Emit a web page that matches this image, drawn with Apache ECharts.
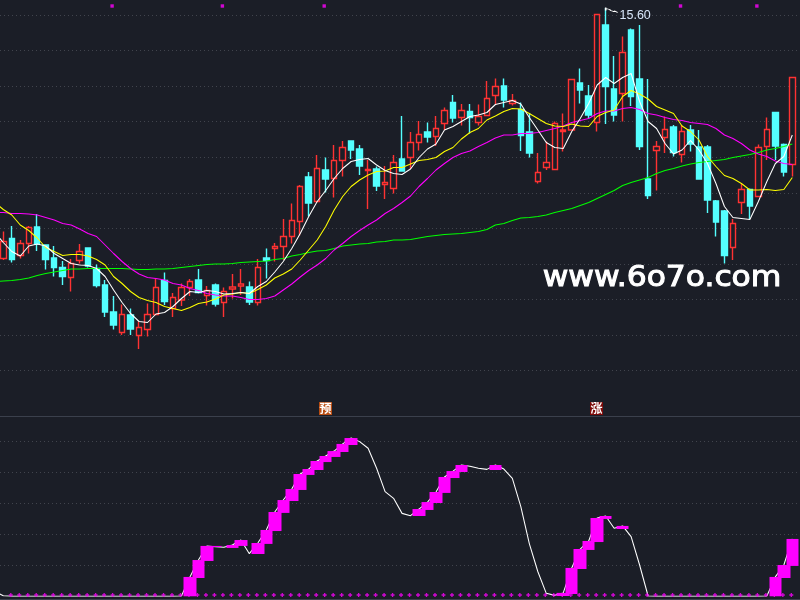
<!DOCTYPE html>
<html><head><meta charset="utf-8">
<script src="https://cdn.jsdelivr.net/npm/echarts@6/dist/echarts.min.js"></script>
<style>html,body{margin:0;padding:0;background:#1b1e27}#c{width:800px;height:600px}</style>
</head><body><div id="c"></div>
<script>
const opens=[10.59,10.99,10.65,10.89,11.22,10.86,10.60,10.41,10.21,10.55,10.80,10.39,10.06,9.52,9.11,9.46,9.05,9.17,9.47,10.15,9.59,9.76,10.01,10.16,9.85,10.06,9.71,9.98,10.04,10.02,9.71,10.60,
10.79,10.83,11.03,11.33,12.22,11.73,12.36,12.19,12.55,12.94,12.78,12.35,12.38,12.07,11.99,12.58,12.61,12.91,13.12,13.03,13.29,13.71,13.41,13.53,13.31,13.45,13.85,14.04,13.69,
13.57,13.12,12.13,12.41,12.37,13.13,13.16,14.10,13.84,13.31,15.26,13.98,13.89,15.16,14.18,12.18,12.75,13.01,13.22,12.67,13.16,12.82,12.82,11.74,11.54,10.81,11.71,11.97,11.83,12.83,13.51,12.87,12.47];
const closes=[10.93,10.57,10.89,11.21,10.88,10.57,10.41,10.23,10.49,10.73,10.44,10.05,9.52,9.26,9.47,9.18,9.21,9.47,10.01,9.73,9.81,10.01,10.13,9.91,9.95,9.68,9.93,10.02,10.08,9.72,10.41,10.55,
10.83,11.03,11.35,12.03,11.70,12.39,12.18,12.55,12.81,12.76,12.44,12.37,12.04,12.11,12.51,12.34,12.91,13.07,13.02,13.19,13.55,13.40,13.55,13.41,13.43,13.79,14.03,13.76,13.75,
13.05,12.70,12.31,12.51,13.29,13.16,14.17,13.96,13.46,15.47,14.03,13.46,14.71,13.83,12.83,11.85,12.83,13.17,12.71,13.13,12.88,12.18,11.76,11.32,10.65,11.29,11.97,11.64,12.81,13.17,12.84,12.32,14.21];
const lows=[10.56,10.51,10.59,10.69,10.74,10.37,10.23,10.06,9.93,10.49,10.41,10.01,9.42,9.17,9.06,9.06,8.78,9.03,9.46,9.66,9.42,9.64,9.84,9.89,9.65,9.63,9.42,9.79,9.86,9.66,9.65,10.19,
10.53,10.56,10.89,11.05,11.43,11.71,11.91,11.81,12.23,12.58,12.26,11.58,11.94,11.78,11.89,12.34,12.38,12.75,12.91,12.84,13.16,13.31,13.25,13.09,13.25,13.45,13.67,13.61,13.65,
12.74,12.61,12.09,12.36,12.36,12.73,13.15,13.69,13.39,13.13,13.28,13.33,13.33,13.64,12.76,11.78,11.95,12.70,12.63,12.51,12.73,12.18,11.50,11.03,10.49,10.56,11.48,11.38,11.83,12.56,12.56,12.23,12.23];
const highs=[11.13,11.24,10.96,11.24,11.48,10.86,10.84,10.54,10.58,10.88,10.80,10.47,10.16,9.84,9.67,9.59,9.33,9.69,10.19,10.31,9.90,10.09,10.18,10.38,10.04,10.09,10.01,10.28,10.38,10.13,10.58,10.79,
10.90,11.38,11.69,12.06,12.32,12.66,12.61,12.86,12.94,12.94,12.86,12.56,12.43,12.44,12.66,13.44,13.12,13.34,13.31,13.44,13.61,13.86,13.68,13.68,13.67,14.14,14.19,14.19,13.88,
13.71,13.50,12.70,12.93,13.33,13.49,14.17,14.39,14.06,15.47,15.60,14.64,15.03,15.19,15.26,14.18,12.94,13.43,13.26,13.26,13.26,13.16,12.86,11.76,11.56,11.38,12.09,11.99,12.87,13.41,13.51,12.89,14.21];
const maWhite=[11.11,10.91,10.73,10.64,10.84,10.88,10.84,10.69,10.59,10.49,10.46,10.45,10.39,10.23,9.96,9.71,9.49,9.33,9.31,9.48,9.51,9.63,9.79,9.93,9.91,9.95,9.93,9.88,9.89,9.91,9.89,10.03,10.13,
10.32,10.53,10.79,11.09,11.43,11.73,11.95,12.19,12.39,12.53,12.57,12.59,12.46,12.35,12.29,12.27,12.38,12.61,12.78,12.88,13.16,13.23,13.33,13.43,13.46,13.51,13.67,13.71,13.75,
13.68,13.41,13.16,12.91,12.81,12.79,13.13,13.39,13.69,14.06,14.21,14.09,14.21,14.29,13.73,13.33,13.19,12.89,12.68,12.76,12.95,12.76,12.49,12.09,11.63,11.41,11.39,11.37,11.73,12.13,12.49,12.63,13.06];
const maYellow=[11.71,11.57,11.46,11.26,11.15,11.00,10.81,10.73,10.65,10.67,10.67,10.64,10.57,10.46,10.23,10.09,9.93,9.81,9.75,9.71,9.63,9.59,9.55,9.61,9.69,9.72,9.78,9.86,9.88,9.91,9.89,9.97,10.06,
10.20,10.28,10.38,10.56,10.76,10.96,11.23,11.56,11.83,12.03,12.16,12.26,12.33,12.34,12.41,12.41,12.48,12.55,12.57,12.61,12.73,12.81,12.98,13.11,13.19,13.36,13.44,13.53,13.59,
13.58,13.49,13.39,13.29,13.24,13.23,13.28,13.24,13.23,13.43,13.51,13.56,13.83,13.95,13.88,13.78,13.63,13.56,13.49,13.24,13.13,12.96,12.63,12.43,12.25,12.19,12.09,11.96,11.96,11.97,11.95,11.97,12.21];
const maMagenta=[11.51,11.51,11.49,11.49,11.48,11.46,11.41,11.36,11.29,11.26,11.18,11.09,11.03,10.86,10.69,10.53,10.39,10.28,10.21,10.19,10.16,10.09,10.06,9.99,9.95,9.89,9.86,9.84,9.84,9.81,9.77,9.77,9.79,
9.84,9.96,10.08,10.22,10.35,10.46,10.59,10.76,10.89,11.03,11.15,11.26,11.36,11.49,11.59,11.71,11.84,12.03,12.19,12.36,12.49,12.61,12.69,12.74,12.83,12.91,13.00,13.06,13.06,
13.09,13.09,13.11,13.15,13.19,13.24,13.31,13.35,13.39,13.49,13.54,13.54,13.59,13.61,13.57,13.49,13.46,13.41,13.37,13.35,13.31,13.29,13.27,13.19,13.06,12.99,12.89,12.76,12.68,12.63,12.54,12.49,12.47];
const maGreen=[10.13,10.14,10.15,10.17,10.20,10.25,10.29,10.32,10.35,10.38,10.38,10.39,10.39,10.39,10.39,10.39,10.38,10.37,10.37,10.38,10.38,10.39,10.41,10.43,10.45,10.47,10.48,10.48,10.49,10.51,10.52,10.53,10.54,
10.57,10.59,10.64,10.67,10.71,10.74,10.75,10.79,10.84,10.86,10.88,10.89,10.92,10.93,10.96,10.96,10.97,11.00,11.03,11.05,11.07,11.08,11.09,11.11,11.13,11.17,11.26,11.29,11.35,
11.40,11.41,11.43,11.46,11.51,11.55,11.59,11.65,11.71,11.79,11.87,11.95,12.05,12.11,12.16,12.21,12.29,12.35,12.39,12.44,12.48,12.51,12.53,12.55,12.57,12.61,12.64,12.67,12.71,12.76,12.79,12.83,12.88];
const oscLine=[3,0.3,0,0,0,0,0,0,0,0,0,0,0,0,0,0,0,0,0,0,0,0,0.2,12.5,23.4,32.5,32,31.6,33.1,36.3,27.5,34.4,42.8,54.4,62.1,69.2,78.9,82.1,87.3,90.5,93.7,98.3,102.1,99.8,95.5,82.6,67.5,63.2,53.5,52,56.3,60.8,67.3,77,80.8,84.7,83.9,82.6,81.9,84.7,82.1,76.1,57.8,34,16,1.9,0.6,2.2,18.3,30.5,35.7,50.5,51.8,43.9,45.4,38.5,20.2,0.2,0,0,0,0,0,0,0,0,0,0,0,0,0,0.2,12.5,20.2,37];
const oscBarIdx=[22,23,24,25,27,28,30,31,32,33,34,35,36,37,38,39,40,41,49,50,51,52,53,54,58,66,67,68,69,70,71,73,91,92,93];
const oscBarLow=[0,11.8,22.8,31.8,31.2,32.5,27.3,33.8,42.1,53.8,61.5,68.6,78.3,81.5,86.6,89.9,93.1,97.6,51.8,55.7,60.2,66.7,76.3,80.2,81.5,0.2,1.5,17.6,29.9,35,49.9,43.4,0,11.8,19.6];
const oscBarHigh=[12.5,23.4,32.5,32.5,33.1,36.3,34.4,42.8,54.4,62.1,69.2,78.9,82.1,87.3,90.5,93.7,98.3,102.1,56.3,60.8,67.3,77,80.8,84.7,84.7,2.2,18.3,30.5,35.7,50.5,51.8,45.4,12.5,20.2,37];
const topMarkIdx=[13,26,38,80,89];
const topMarkLevel=15.64;
const plusLevel=0.5;
const highLabel='15.60';
const highIdx=71;
const signalTexts=['预','涨'];

const BG='#1b1e27',RED='#ff3232',CYAN='#54ffff',GRID='#41444d';
// the line arrays start one trading day before the first visible candle (index -1)
const withX=a=>a.map((v,k)=>[k-1,v]);
const candle=opens.map((o,i)=>[i,o,closes[i],lows[i],highs[i]]);
const oscBars=oscBarIdx.map((i,k)=>[i,oscBarLow[k],oscBarHigh[k],oscBarLow[k],oscBarHigh[k]]);
const plusPath='path://M1 0H2V1H3V2H2V3H1V2H0V1H1Z';
const lineS=(d,c,xi,yi,z,w)=>({type:'line',data:withX(d),xAxisIndex:xi,yAxisIndex:yi,showSymbol:false,symbol:'none',lineStyle:{color:c,width:w||1.05},itemStyle:{color:c},z:z,silent:true});

const chart=echarts.init(document.getElementById('c'),null,{renderer:'canvas'});
const dotted={show:true,lineStyle:{color:GRID,width:1,type:[1,3]}};
const noAxis={axisLine:{show:false},axisTick:{show:false},axisLabel:{show:false}};
const xA=g=>({type:'value',gridIndex:g,min:-0.389,max:93.906,...noAxis,splitLine:{show:false}});
chart.setOption({
  animation:false,backgroundColor:BG,legend:{show:false},tooltip:{show:false},
  grid:[{left:0,right:0,top:0,height:406.1},{left:0,right:0,top:410.3,height:186}],
  xAxis:[xA(0),xA(1)],
  yAxis:[
    {type:'value',gridIndex:0,min:7.638,max:15.76,...noAxis,splitLine:{show:false}},
    {type:'value',gridIndex:0,min:0,max:11.423,interval:1,...noAxis,splitLine:{...dotted,showMinLine:false,showMaxLine:false}},
    {type:'value',gridIndex:1,min:0,max:120,interval:20,...noAxis,splitLine:{...dotted,showMinLine:false,showMaxLine:false}}
  ],
  series:[
    {type:'candlestick',data:candle,xAxisIndex:0,yAxisIndex:0,barWidth:6,z:3,silent:true,
     itemStyle:{color:BG,color0:CYAN,borderColor:RED,borderColor0:CYAN,borderWidth:1.4},
     markPoint:{silent:true,animation:false,symbol:'path://M0 0V3M0 1L4 2L5 3L8 4L9 3.5L12 5',symbolSize:[12,5],symbolKeepAspect:false,
       itemStyle:{color:'none',borderColor:'#ffffff',borderWidth:1},
       label:{show:true,formatter:highLabel,position:'right',distance:1,offset:[-3,6],color:'#d8e6fa',fontFamily:'Liberation Sans',fontSize:12.5},
       data:[{coord:[highIdx,highs[highIdx]],symbolOffset:[6,2]}]}},
    lineS(maGreen,'#00ff00',0,0,4),
    lineS(maMagenta,'#ff00ff',0,0,5),
    lineS(maYellow,'#ffff00',0,0,6),
    lineS(maWhite,'#ffffff',0,0,7),
    {type:'scatter',data:topMarkIdx.map(i=>[i,topMarkLevel]),xAxisIndex:0,yAxisIndex:0,symbol:'rect',symbolSize:3.4,symbolOffset:[-1.5,0],itemStyle:{color:'#ff00ff'},z:8,silent:true},
    {type:'scatter',data:opens.map((_,i)=>[i,plusLevel]).slice(1),xAxisIndex:1,yAxisIndex:2,symbol:plusPath,symbolSize:4,symbolOffset:[-1,-0.5],itemStyle:{color:'#ff00ff'},z:6,silent:true,clip:false},
    lineS(oscLine,'#ffffff',1,2,5),
    {type:'candlestick',data:oscBars,xAxisIndex:1,yAxisIndex:2,barWidth:13,z:7,silent:true,clip:false,
     itemStyle:{color:'#ff00ff',color0:'#ff00ff',borderColor:'#ff00ff',borderColor0:'#ff00ff',borderWidth:0}}
  ],
  graphic:[
    {type:'line',z:1,shape:{x1:0,y1:416.5,x2:800,y2:416.5},style:{stroke:'#3b404c',lineWidth:1},silent:true},
    {type:'line',z:1,shape:{x1:0,y1:599.5,x2:800,y2:599.5},style:{stroke:'#3b404c',lineWidth:1},silent:true},
    {type:'rect',z:20,shape:{x:319,y:402,width:13,height:13},style:{fill:'#b84c12'},silent:true},
    {type:'text',z:21,x:325.5,y:408.5,style:{text:signalTexts[0],fill:'#ffffff',font:'bold 12px "Noto Sans CJK SC"',textAlign:'center',textVerticalAlign:'middle'},silent:true},
    {type:'rect',z:20,shape:{x:590,y:402,width:13,height:13},style:{fill:'#7c0a08'},silent:true},
    {type:'text',z:21,x:596.5,y:408.5,style:{text:signalTexts[1],fill:'#ffffff',font:'bold 12px "Noto Sans CJK SC"',textAlign:'center',textVerticalAlign:'middle'},silent:true},
    {type:'text',z:30,x:662,y:279,scaleX:1.12,style:{text:'www.6o7o.com',fill:'#ffffff',stroke:'#ffffff',lineWidth:1,font:'28px "DejaVu Sans"',textAlign:'center',textVerticalAlign:'middle'},silent:true}
  ]
});
</script></body></html>
